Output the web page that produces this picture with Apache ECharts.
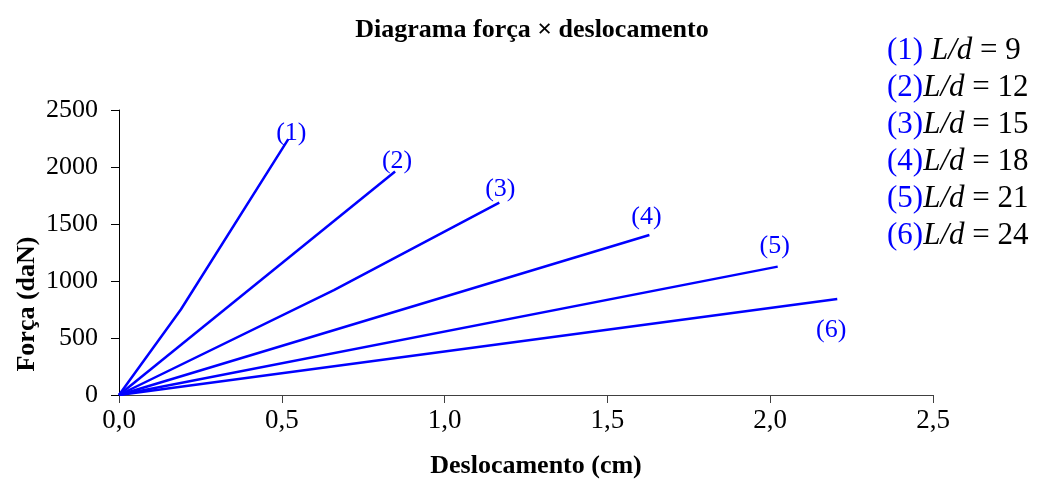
<!DOCTYPE html>
<html>
<head>
<meta charset="utf-8">
<script src="https://cdn.jsdelivr.net/npm/echarts@6/dist/echarts.min.js"></script>
<style>
  html, body { margin: 0; padding: 0; background: #fff; }
  #chart { width: 1037px; height: 479px; }
</style>
</head>
<body>
<div id="chart"></div>
<script>
// Force–displacement curves, one per slenderness ratio L/d
const curveTags = ['(1)', '(2)', '(3)', '(4)', '(5)', '(6)'];
const slenderness = [9, 12, 15, 18, 21, 24];

// displacement (cm) / force (daN) pairs
const curve1 = [[0, 0], [0.19, 750], [0.52, 2245]];
const curve2 = [[0, 0], [0.848, 1960]];
const curve3 = [[0, 0], [0.66, 920], [1.168, 1687]];
const curve4 = [[0, 0], [1.629, 1404]];
const curve5 = [[0, 0], [2.023, 1126]];
const curve6 = [[0, 0], [2.206, 842]];
const curves = [curve1, curve2, curve3, curve4, curve5, curve6];

const xTicks = { min: 0, max: 2.5, step: 0.5 };
const yTicks = { min: 0, max: 2500, step: 500 };

const SERIF = '"Liberation Serif", "Times New Roman", serif';
const BLUE = '#0000ff';

// where each curve's tag sits relative to its last point
const tagOffsets = [[3, -6], [2, -10], [1, -14], [-3, -18], [-3, -20], [-6, 31]];

const series = curves.map((pts, i) => ({
  name: curveTags[i],
  type: 'line',
  data: pts.map((p, j) => j === pts.length - 1
    ? { value: p, label: { show: true, position: 'inside', offset: tagOffsets[i], formatter: curveTags[i] } }
    : { value: p }),
  showSymbol: true,
  symbol: 'circle',
  symbolSize: 0.1,
  itemStyle: { color: BLUE },
  lineStyle: { color: BLUE, width: 2.5 },
  label: { show: false, color: BLUE, fontFamily: SERIF, fontSize: 26 },
  animation: false
}));

const chart = echarts.init(document.getElementById('chart'), null, { renderer: 'canvas' });
chart.setOption({
  backgroundColor: '#fff',
  animation: false,
  title: {
    text: 'Diagrama força × deslocamento',
    left: 527, top: 12, textAlign: 'center',
    textStyle: { fontFamily: SERIF, fontWeight: 'bold', fontSize: 26, color: '#000' }
  },
  legend: {
    orient: 'vertical',
    left: 877, top: 30,
    icon: 'none',
    itemWidth: 0, itemHeight: 31, itemGap: 6,
    data: curveTags,
    formatter: name => {
      const i = curveTags.indexOf(name);
      const gap = i === 0 ? ' ' : '';
      return '{n|' + name + '}' + gap + '{i|L/d}{v| = ' + slenderness[i] + '}';
    },
    textStyle: {
      fontFamily: SERIF, fontSize: 31, color: '#000',
      rich: {
        n: { fontFamily: SERIF, fontSize: 31, color: BLUE, lineHeight: 31 },
        i: { fontFamily: SERIF, fontSize: 31, fontStyle: 'italic', color: '#000', lineHeight: 31 },
        v: { fontFamily: SERIF, fontSize: 31, color: '#000', lineHeight: 31 }
      }
    }
  },
  grid: { left: 119, right: 104, top: 110, bottom: 84, containLabel: false },
  xAxis: {
    type: 'value',
    min: xTicks.min, max: xTicks.max, interval: xTicks.step,
    splitLine: { show: false },
    axisLine: { show: true, onZero: false, lineStyle: { color: '#404040', width: 1 } },
    axisTick: { show: true, inside: false, length: 8, lineStyle: { color: '#404040' } },
    axisLabel: {
      margin: 12, color: '#000', fontFamily: SERIF, fontSize: 27,
      formatter: v => v.toFixed(1).replace('.', ',')
    }
  },
  yAxis: {
    type: 'value',
    min: yTicks.min, max: yTicks.max, interval: yTicks.step,
    splitLine: { show: false },
    axisLine: { show: true, onZero: false, lineStyle: { color: '#000', width: 1 } },
    axisTick: { show: true, inside: false, length: 8, lineStyle: { color: '#000' } },
    axisLabel: { margin: 21, color: '#000', fontFamily: SERIF, fontSize: 26, formatter: v => String(v) }
  },
  graphic: [
    {
      type: 'text',
      x: 27, y: 304, rotation: Math.PI / 2,
      style: {
        text: 'Força (daN)', fontFamily: SERIF, fontWeight: 'bold', fontSize: 26,
        fill: '#000', align: 'center', verticalAlign: 'middle'
      }
    },
    {
      type: 'text',
      x: 536, y: 466,
      style: {
        text: 'Deslocamento (cm)', fontFamily: SERIF, fontWeight: 'bold', fontSize: 26,
        fill: '#000', align: 'center', verticalAlign: 'middle'
      }
    }
  ],
  series: series
});
</script>
</body>
</html>
